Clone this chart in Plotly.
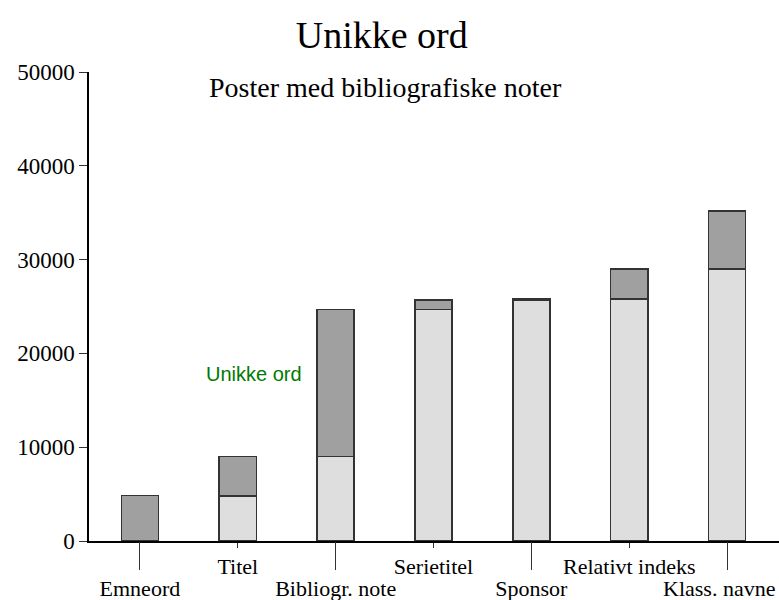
import plotly.graph_objects as go

categories = ["Emneord", "Titel", "Bibliogr. note", "Serietitel", "Sponsor", "Relativt indeks", "Klass. navne"]
base_values = [0, 4800, 9000, 24700, 25700, 25800, 29000]
top_values = [4850, 9000, 24700, 25700, 25800, 29000, 35200]
increments = [t - b for t, b in zip(top_values, base_values)]
y_ticks = [0, 10000, 20000, 30000, 40000, 50000]

serif = "Liberation Serif"
idx = list(range(len(categories)))
upper_idx = idx[1::2]
lower_idx = idx[0::2]
upper_text = [categories[i] for i in upper_idx]
lower_text = [categories[i] for i in lower_idx]
# the last label is pushed inside the page as in the reference (drawn as right-aligned text)
last_label = lower_text[-1]
lower_text[-1] = ""

fig = go.Figure()
fig.add_trace(go.Bar(x=idx, y=base_values, marker=dict(color="#dedede", line=dict(color="#333333", width=1.5)),
                     width=0.38, showlegend=False))
fig.add_trace(go.Bar(x=idx, y=increments, marker=dict(color="#a0a0a0", line=dict(color="#333333", width=1.5)),
                     width=0.38, showlegend=False))
# invisible trace for the lower-row (long-tick) axis
fig.add_trace(go.Scatter(x=[idx[0]], y=[0], xaxis="x2", mode="markers", marker=dict(opacity=0),
                         showlegend=False, hoverinfo="skip"))

xr = [-0.52, 6.53]
fig.update_layout(
    barmode="stack",
    width=779, height=600,
    margin=dict(l=89, r=0, t=72, b=59),
    plot_bgcolor="white", paper_bgcolor="white",
    font=dict(family=serif, color="black"),
    title=dict(text="Unikke ord", x=0.49, xanchor="center", y=0.942, yanchor="middle",
               font=dict(family=serif, size=38, color="black")),
    xaxis=dict(range=xr, tickvals=upper_idx, ticktext=upper_text, tickangle=0, automargin=False,
               ticks="outside", ticklen=5, tickcolor="#333333", showline=True, linecolor="black",
               linewidth=1.5, showgrid=False, zeroline=False,
               tickfont=dict(family=serif, size=22, color="black")),
    xaxis2=dict(range=xr, overlaying="x", side="bottom", anchor="y", tickvals=lower_idx,
                ticktext=lower_text, tickangle=0, ticks="outside", ticklen=28, tickcolor="#333333",
                showline=False, showgrid=False, zeroline=False, automargin=False,
                tickfont=dict(family=serif, size=22, color="black")),
    yaxis=dict(range=[0, 50000], tickvals=y_ticks, tickformat="d", ticks="outside", ticklen=8,
               automargin=False, tickcolor="#333333", showline=True, linecolor="black", linewidth=1.5,
               showgrid=False, zeroline=False, tickfont=dict(family=serif, size=23, color="black")),
    annotations=[
        dict(text="Poster med bibliografiske noter", xref="paper", yref="paper", x=0.429, y=1.005,
             xanchor="center", yanchor="top", showarrow=False, font=dict(family=serif, size=28, color="black")),
        dict(text="Unikke ord", xref="x", yref="y", x=1.17, y=17800, xanchor="center", yanchor="middle",
             showarrow=False, font=dict(family="Liberation Sans", size=20, color="#007a00")),
        dict(text=last_label, xref="paper", yref="paper", x=1.0, y=-0.101, xanchor="right",
             yanchor="middle", xshift=-2, showarrow=False, font=dict(family=serif, size=22, color="black")),
    ],
)

fig.write_html("out.html", config={"displayModeBar": False},
               post_script="document.body.style.margin='0';document.body.style.overflow='hidden';")
